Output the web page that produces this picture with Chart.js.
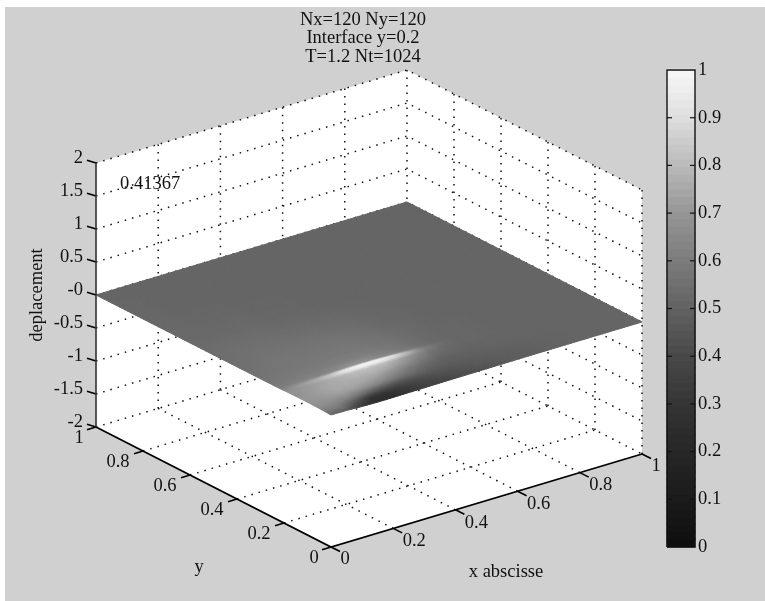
<!DOCTYPE html>
<html>
<head>
<meta charset="utf-8">
<title>deplacement</title>
<style>
    body { margin: 0; background: #fff; }
    canvas { display: block; }
</style>
<script src="https://cdn.jsdelivr.net/npm/chart.js@4/dist/chart.umd.js"></script>
</head>
<body>
<canvas id="grafica" width="765" height="601"></canvas>
<script>
const titleLines = ['Nx=120 Ny=120', 'Interface y=0.2', 'T=1.2 Nt=1024'];
const xTicks = [0, 0.2, 0.4, 0.6, 0.8, 1];
const yTicks = [0, 0.2, 0.4, 0.6, 0.8, 1];
const zTicks = [-2, -1.5, -1, -0.5, 0, 0.5, 1, 1.5, 2];
const xTickLabels = ['0', '0.2', '0.4', '0.6', '0.8', '1'];
const yTickLabels = ['0', '0.2', '0.4', '0.6', '0.8', '1'];
const zTickLabels = ['-2', '-1.5', '-1', '-0.5', '-0', '0.5', '1', '1.5', '2'];
const barTicks = [0, 0.1, 0.2, 0.3, 0.4, 0.5, 0.6, 0.7, 0.8, 0.9, 1];
const barTickLabels = ['0', '0.1', '0.2', '0.3', '0.4', '0.5', '0.6', '0.7', '0.8', '0.9', '1'];

// gray colormap, 64 levels
const grayLevels = [15, 17, 19, 21, 23, 25, 27, 29, 30, 32, 34, 36, 38, 40, 42, 44,
    47, 49, 51, 54, 57, 60, 63, 66, 69, 72, 76, 80, 84, 88, 92, 96,
    100, 104, 108, 112, 116, 120, 124, 128, 132, 136, 140, 144, 148, 153, 159, 165,
    170, 176, 182, 188, 193, 199, 204, 210, 216, 222, 226, 230, 234, 238, 241, 245];

// surface colour values, one row per yNodes entry, one column per xNodes entry
const xNodes = [0, 0.05, 0.1, 0.15, 0.2, 0.25, 0.3, 0.35, 0.4, 0.45, 0.5, 0.55, 0.6, 0.7, 0.8, 1];
const yNodes = [0, 0.03, 0.06, 0.09, 0.12, 0.15, 0.18, 0.195, 0.205, 0.22, 0.26, 0.3, 0.35, 0.4, 0.5, 0.6, 0.8, 1];
const surfaceValues = [
    [.52, .48, .32, .24, .25, .30, .34, .37, .40, .42, .44, .46, .48, .50, .51, .51],
    [.62, .60, .46, .28, .27, .32, .37, .40, .42, .44, .46, .47, .48, .50, .51, .51],
    [.68, .67, .64, .56, .46, .42, .43, .44, .45, .46, .47, .48, .49, .50, .51, .51],
    [.70, .71, .73, .72, .69, .62, .56, .52, .49, .48, .49, .49, .50, .51, .51, .51],
    [.70, .72, .75, .76, .75, .72, .66, .58, .53, .50, .50, .50, .51, .51, .51, .51],
    [.69, .72, .75, .77, .78, .78, .75, .69, .60, .54, .52, .51, .51, .51, .51, .51],
    [.68, .71, .74, .78, .81, .82, .81, .76, .68, .58, .53, .52, .52, .51, .51, .51],
    [.66, .72, .77, .85, .96, .99, .98, .90, .78, .62, .55, .52, .52, .51, .51, .51],
    [.64, .70, .75, .82, .94, 1.0, .99, .91, .77, .61, .55, .52, .52, .51, .51, .51],
    [.60, .62, .63, .64, .67, .70, .68, .64, .60, .56, .53, .52, .52, .51, .51, .51],
    [.58, .59, .60, .60, .61, .61, .61, .60, .58, .55, .53, .52, .52, .51, .51, .51],
    [.57, .58, .58, .59, .59, .59, .59, .58, .57, .55, .53, .52, .52, .51, .51, .51],
    [.56, .57, .58, .58, .58, .58, .58, .57, .56, .54, .53, .52, .51, .51, .51, .51],
    [.55, .56, .57, .57, .57, .57, .57, .56, .55, .53, .52, .52, .51, .51, .51, .51],
    [.54, .55, .55, .55, .55, .54, .54, .53, .53, .52, .52, .51, .51, .51, .51, .51],
    [.53, .53, .53, .53, .53, .52, .52, .52, .51, .51, .51, .51, .51, .51, .51, .51],
    [.52, .52, .51, .51, .51, .51, .51, .51, .51, .51, .51, .51, .51, .51, .51, .51],
    [.51, .51, .51, .51, .51, .51, .51, .51, .51, .51, .51, .51, .51, .51, .51, .51]
];

const BASE_VALUE = 0.51;
const RELIEF = 0.06;
const FONT = '"Liberation Serif", serif';

// orthographic view of the box, in the coordinates of the x/y scales below
function project(x, y, z) {
    return {
        x: 331 + 311 * x - 235 * y,
        y: 547 - 93 * x - 120 * y - 66 * (z + 2)
    };
}

function colorFor(value) {
    const t = Math.min(1, Math.max(0, value)) * (grayLevels.length - 1);
    const i = Math.min(grayLevels.length - 2, Math.floor(t));
    const g = Math.round(grayLevels[i] + (grayLevels[i + 1] - grayLevels[i]) * (t - i));
    return `rgb(${g},${g},${g})`;
}

function lineSet(points, color, width, dash) {
    return {
        type: 'scatter',
        data: points,
        showLine: true,
        borderColor: color,
        borderWidth: width,
        borderDash: dash || [],
        pointRadius: 0,
        tension: 0,
        fill: false
    };
}

function dotted(points) {
    return lineSet(points, '#111', 1.5, [1.5, 6]);
}

const gridSets = [];
const innerX = xTicks.slice(1, -1);
const innerY = yTicks.slice(1, -1);
const innerZ = zTicks.slice(1, -1);

innerX.forEach(x => {
    gridSets.push(dotted([project(x, 0, -2), project(x, 1, -2)]));
    gridSets.push(dotted([project(x, 1, -2), project(x, 1, 2)]));
});
innerY.forEach(y => {
    gridSets.push(dotted([project(0, y, -2), project(1, y, -2)]));
    gridSets.push(dotted([project(1, y, -2), project(1, y, 2)]));
});
innerZ.forEach(z => {
    gridSets.push(dotted([project(0, 1, z), project(1, 1, z), project(1, 0, z)]));
});
gridSets.push(dotted([project(0, 1, 2), project(1, 1, 2), project(1, 0, 2)]));
gridSets.push(dotted([project(1, 1, -2), project(1, 1, 2)]));
gridSets.push(dotted([project(1, 0, -2), project(1, 0, 2)]));
gridSets.push(dotted([project(0, 1, -2), project(1, 1, -2), project(1, 0, -2)]));

const wallSet = lineSet([
    project(0, 1, 2), project(1, 1, 2), project(1, 0, 2), project(1, 0, -2),
    project(0, 0, -2), project(0, 1, -2), project(0, 1, 2)
], '#fff', 0);
wallSet.fill = 'shape';
wallSet.backgroundColor = '#fff';

const surfaceNodes = [];
yNodes.forEach((y, j) => {
    xNodes.forEach((x, i) => {
        surfaceNodes.push(project(x, y, (surfaceValues[j][i] - BASE_VALUE) * RELIEF));
    });
});
const surfaceSet = { type: 'scatter', data: surfaceNodes, pointRadius: 0, showLine: false };

const axisSets = [lineSet([project(0, 1, -2), project(0, 1, 2)], '#333', 1.6)];
axisSets.push(lineSet([project(0, 1, -2), project(0, 0, -2), project(1, 0, -2)], '#000', 1.8));

const tickSets = [];
const TICK = 9;
xTicks.forEach(x => {
    const a = project(x, 0, -2);
    tickSets.push(lineSet([a, { x: a.x + TICK, y: a.y + TICK * 0.5 }], '#000', 1.6));
});
yTicks.forEach(y => {
    const a = project(0, y, -2);
    tickSets.push(lineSet([a, { x: a.x - TICK, y: a.y + TICK * 0.3 }], '#000', 1.6));
});
zTicks.forEach(z => {
    const a = project(0, 1, z);
    tickSets.push(lineSet([a, { x: a.x - TICK, y: a.y - TICK * 0.3 }], '#000', 1.6));
});

// colorbar on its own value axis
const BAR_LEFT = 667;
const BAR_RIGHT = 695;
const barSegments = grayLevels.map((g, i) => ({
    x: (BAR_LEFT + BAR_RIGHT) / 2,
    y: [i / grayLevels.length, (i + 1) / grayLevels.length + 0.002]
}));
const barSet = {
    type: 'bar',
    data: barSegments,
    yAxisID: 'yBar',
    backgroundColor: grayLevels.map(g => `rgb(${g},${g},${g})`),
    borderWidth: 0,
    barThickness: BAR_RIGHT - BAR_LEFT
};
const barFrame = lineSet([
    { x: BAR_LEFT, y: 0 }, { x: BAR_RIGHT, y: 0 }, { x: BAR_RIGHT, y: 1 },
    { x: BAR_LEFT, y: 1 }, { x: BAR_LEFT, y: 0 }
], '#111', 1.4);
barFrame.yAxisID = 'yBar';
const barTickSets = [];
barTicks.slice(1, -1).forEach(v => {
    const left = lineSet([{ x: BAR_LEFT, y: v }, { x: BAR_LEFT + 5, y: v }], '#111', 1.2);
    const right = lineSet([{ x: BAR_RIGHT - 5, y: v }, { x: BAR_RIGHT, y: v }], '#111', 1.2);
    left.yAxisID = 'yBar';
    right.yAxisID = 'yBar';
    barTickSets.push(left, right);
});

// first dataset ends up on top
const SURFACE_INDEX = axisSets.length + tickSets.length + barTickSets.length + 2;
const datasets = [...axisSets, ...tickSets, ...barTickSets, barFrame, barSet, surfaceSet, ...gridSets, wallSet];

const backgroundPlugin = {
    id: 'fondo',
    beforeDraw(chart) {
        const { ctx, scales } = chart;
        const left = scales.x.getPixelForValue(5);
        const top = scales.y.getPixelForValue(7);
        ctx.save();
        ctx.fillStyle = '#d0d0d0';
        ctx.fillRect(left, top, chart.width - left, chart.height - top);
        ctx.restore();
    }
};

const surfacePlugin = {
    id: 'superficie',
    afterDatasetDraw(chart, args) {
        if (args.index !== SURFACE_INDEX) return;
        const pts = args.meta.data;
        const nx = xNodes.length;
        const ctx = chart.ctx;
        ctx.save();
        ctx.lineWidth = 1;
        ctx.lineJoin = 'round';
        for (let j = yNodes.length - 2; j >= 0; j--) {
            for (let i = nx - 2; i >= 0; i--) {
                const p00 = pts[j * nx + i], p10 = pts[j * nx + i + 1];
                const p01 = pts[(j + 1) * nx + i], p11 = pts[(j + 1) * nx + i + 1];
                const v00 = surfaceValues[j][i], v10 = surfaceValues[j][i + 1];
                const v01 = surfaceValues[j + 1][i], v11 = surfaceValues[j + 1][i + 1];
                shadeCell(ctx, p00, p10, p01, p11, v00, v10, v01, v11);
            }
        }
        ctx.restore();
    }
};

// interpolated shading inside one cell
function shadeCell(ctx, p00, p10, p01, p11, v00, v10, v01, v11) {
    const nu = Math.max(2, Math.ceil(Math.hypot(p10.x - p00.x, p10.y - p00.y) / 3));
    const nv = Math.max(2, Math.ceil(Math.hypot(p01.x - p00.x, p01.y - p00.y) / 3));
    const at = (u, v) => ({
        x: (1 - u) * (1 - v) * p00.x + u * (1 - v) * p10.x + (1 - u) * v * p01.x + u * v * p11.x,
        y: (1 - u) * (1 - v) * p00.y + u * (1 - v) * p10.y + (1 - u) * v * p01.y + u * v * p11.y
    });
    for (let b = nv - 1; b >= 0; b--) {
        for (let a = nu - 1; a >= 0; a--) {
            const u = (a + 0.5) / nu, v = (b + 0.5) / nv;
            const val = (1 - u) * (1 - v) * v00 + u * (1 - v) * v10 + (1 - u) * v * v01 + u * v * v11;
            const col = colorFor(val);
            const q = [at(a / nu, b / nv), at((a + 1) / nu, b / nv), at((a + 1) / nu, (b + 1) / nv), at(a / nu, (b + 1) / nv)];
            ctx.fillStyle = col;
            ctx.strokeStyle = col;
            ctx.beginPath();
            ctx.moveTo(q[0].x, q[0].y);
            q.slice(1).forEach(c => ctx.lineTo(c.x, c.y));
            ctx.closePath();
            ctx.fill();
            ctx.stroke();
        }
    }
}

const textPlugin = {
    id: 'textos',
    afterDraw(chart) {
        const { ctx, scales } = chart;
        const px = v => scales.x.getPixelForValue(v);
        const py = v => scales.y.getPixelForValue(v);
        const put = (text, x, y, align) => {
            ctx.textAlign = align || 'center';
            ctx.fillText(text, px(x), py(y));
        };
        ctx.save();
        ctx.fillStyle = '#111';
        ctx.font = `18.5px ${FONT}`;
        ctx.textBaseline = 'middle';

        titleLines.forEach((t, i) => put(t, 363, 20 + i * 18.5));

        xTickLabels.forEach((t, i) => {
            const a = project(xTicks[i], 0, -2);
            const whole = xTicks[i] === 0 || xTicks[i] === 1;
            put(t, a.x + (whole ? 14 : 21), a.y + (whole ? 12 : 13));
        });
        yTickLabels.forEach((t, i) => {
            const a = project(0, yTicks[i], -2);
            const whole = yTicks[i] === 0 || yTicks[i] === 1;
            put(t, a.x - (whole ? 17 : 25), a.y + 11);
        });
        zTickLabels.forEach((t, i) => {
            const a = project(0, 1, zTicks[i]);
            put(t, a.x - 13, a.y - 5, 'right');
        });
        barTickLabels.forEach((t, i) => {
            ctx.textAlign = 'left';
            ctx.fillText(t, px(698), scales.yBar.getPixelForValue(barTicks[i]));
        });

        put('x abscisse', 506, 572);
        put('y', 199, 567);
        put('0.41367', 120, 184, 'left');

        ctx.translate(px(37), py(295));
        ctx.rotate(-Math.PI / 2);
        ctx.textAlign = 'center';
        ctx.fillText('deplacement', 0, 0);
        ctx.restore();
    }
};

new Chart(document.getElementById('grafica').getContext('2d'), {
    type: 'scatter',
    data: { datasets: datasets },
    plugins: [backgroundPlugin, surfacePlugin, textPlugin],
    options: {
        responsive: false,
        animation: false,
        layout: { padding: 0 },
        plugins: { legend: { display: false }, tooltip: { enabled: false } },
        scales: {
            x: { type: 'linear', min: 0, max: 765, offset: false, display: false },
            y: { type: 'linear', min: 0, max: 601, reverse: true, display: false },
            yBar: { type: 'linear', min: -0.1132, max: 1.1468, display: false }
        }
    }
});
</script>
</body>
</html>
